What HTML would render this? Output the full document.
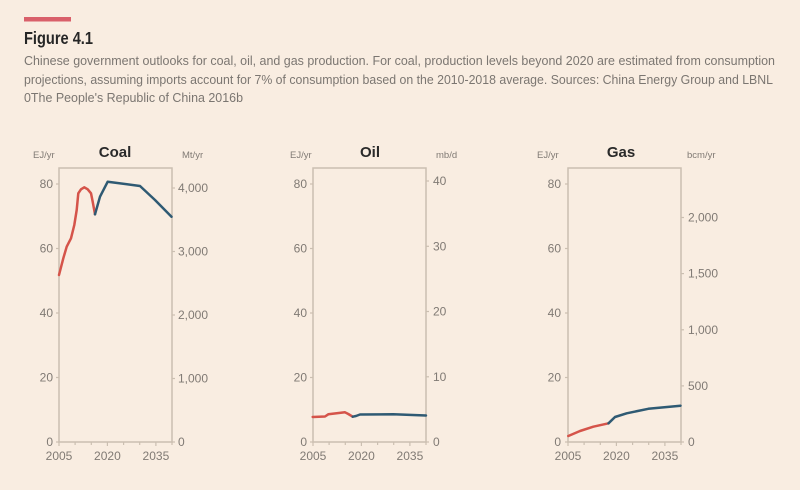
<!DOCTYPE html>
<html><head><meta charset="utf-8"><style>
html,body{margin:0;padding:0;background:#f9ede1;}
svg{display:block;}
text{font-family:"Liberation Sans",sans-serif;}
.cap{font-size:13px;fill:#7b7671;}
.tk{font-size:12px;fill:#807a74;}
.un{font-size:9.5px;fill:#807a74;}
.ti{font-size:15px;font-weight:bold;fill:#2a2a2a;}
.fr{fill:none;stroke:#cbbfb1;stroke-width:1.5;}
.tm{stroke:#cbbfb1;stroke-width:1.2;}
.r{fill:none;stroke:#d5544a;stroke-width:2.5;stroke-linejoin:round;stroke-linecap:round;}
.b{fill:none;stroke:#2f5a73;stroke-width:2.5;stroke-linejoin:round;stroke-linecap:round;}
</style></head><body>
<svg width="800" height="490" viewBox="0 0 800 490" xmlns="http://www.w3.org/2000/svg">
<rect x="0" y="0" width="800" height="490" fill="#f9ede1"/>
<rect x="24" y="17" width="47" height="4.5" fill="#d9606a"/>
<text x="24" y="44" font-size="17.5" font-weight="bold" fill="#262626" textLength="69" lengthAdjust="spacingAndGlyphs">Figure 4.1</text>
<text class="cap" x="24" y="65" textLength="751" lengthAdjust="spacingAndGlyphs">Chinese government outlooks for coal, oil, and gas production. For coal, production levels beyond 2020 are estimated from consumption</text>
<text class="cap" x="24" y="84" textLength="749" lengthAdjust="spacingAndGlyphs">projections, assuming imports account for 7% of consumption based on the 2010-2018 average. Sources: China Energy Group and LBNL</text>
<text class="cap" x="24" y="102" textLength="219" lengthAdjust="spacingAndGlyphs">0The People's Republic of China 2016b</text>

<!-- COAL -->
<g>
<text class="ti" x="115" y="157" text-anchor="middle">Coal</text>
<text class="un" x="33" y="158">EJ/yr</text>
<text class="un" x="182" y="158">Mt/yr</text>
<rect class="fr" x="59" y="168" width="113" height="274"/>
<g class="tm">
<line x1="56" y1="442" x2="59" y2="442"/><line x1="56" y1="377.5" x2="59" y2="377.5"/><line x1="56" y1="313" x2="59" y2="313"/><line x1="56" y1="248.5" x2="59" y2="248.5"/><line x1="56" y1="184" x2="59" y2="184"/>
<line x1="172" y1="442" x2="175" y2="442"/><line x1="172" y1="378.5" x2="175" y2="378.5"/><line x1="172" y1="315" x2="175" y2="315"/><line x1="172" y1="251.5" x2="175" y2="251.5"/><line x1="172" y1="188" x2="175" y2="188"/>
<line x1="59" y1="442" x2="59" y2="446"/><line x1="75.1" y1="442" x2="75.1" y2="445"/><line x1="91.3" y1="442" x2="91.3" y2="445"/><line x1="107.4" y1="442" x2="107.4" y2="446"/><line x1="123.6" y1="442" x2="123.6" y2="445"/><line x1="139.7" y1="442" x2="139.7" y2="445"/><line x1="155.9" y1="442" x2="155.9" y2="446"/><line x1="172" y1="442" x2="172" y2="445"/>
</g>
<g class="tk" text-anchor="end">
<text x="53" y="446">0</text><text x="53" y="381.5">20</text><text x="53" y="317">40</text><text x="53" y="252.5">60</text><text x="53" y="188">80</text>
</g>
<g class="tk">
<text x="178" y="446">0</text><text x="178" y="382.5">1,000</text><text x="178" y="319">2,000</text><text x="178" y="255.5">3,000</text><text x="178" y="192">4,000</text>
</g>
<g class="tk" text-anchor="middle">
<text x="59" y="460">2005</text><text x="107.4" y="460">2020</text><text x="155.9" y="460">2035</text>
</g>
<polyline class="r" points="59,275 63.3,258.3 66.7,246.7 71,238.3 74.3,225 76.7,210 78.3,193.3 81,189.3 84.3,187.3 87.7,189.3 91,193.3 92.7,201.7 95,214.3"/>
<polyline class="b" points="95,214.3 100,196.7 107.7,181.7 140,186 155,200 171.5,216.7"/>
</g>

<!-- OIL -->
<g>
<text class="ti" x="370" y="157" text-anchor="middle">Oil</text>
<text class="un" x="290" y="158">EJ/yr</text>
<text class="un" x="436" y="158">mb/d</text>
<rect class="fr" x="313" y="168" width="113" height="274"/>
<g class="tm">
<line x1="310" y1="442" x2="313" y2="442"/><line x1="310" y1="377.5" x2="313" y2="377.5"/><line x1="310" y1="313" x2="313" y2="313"/><line x1="310" y1="248.5" x2="313" y2="248.5"/><line x1="310" y1="184" x2="313" y2="184"/>
<line x1="426" y1="442" x2="429" y2="442"/><line x1="426" y1="376.8" x2="429" y2="376.8"/><line x1="426" y1="311.5" x2="429" y2="311.5"/><line x1="426" y1="246.3" x2="429" y2="246.3"/><line x1="426" y1="181" x2="429" y2="181"/>
<line x1="313" y1="442" x2="313" y2="446"/><line x1="329.1" y1="442" x2="329.1" y2="445"/><line x1="345.3" y1="442" x2="345.3" y2="445"/><line x1="361.4" y1="442" x2="361.4" y2="446"/><line x1="377.6" y1="442" x2="377.6" y2="445"/><line x1="393.7" y1="442" x2="393.7" y2="445"/><line x1="409.9" y1="442" x2="409.9" y2="446"/><line x1="426" y1="442" x2="426" y2="445"/>
</g>
<g class="tk" text-anchor="end">
<text x="307" y="446">0</text><text x="307" y="381.5">20</text><text x="307" y="317">40</text><text x="307" y="252.5">60</text><text x="307" y="188">80</text>
</g>
<g class="tk">
<text x="433" y="446">0</text><text x="433" y="380.8">10</text><text x="433" y="315.5">20</text><text x="433" y="250.3">30</text><text x="433" y="185">40</text>
</g>
<g class="tk" text-anchor="middle">
<text x="313" y="460">2005</text><text x="361.4" y="460">2020</text><text x="409.9" y="460">2035</text>
</g>
<polyline class="r" points="312.7,417 325,416.5 328.3,414.3 336.7,413.3 345,412.3 348.3,414 352.7,416.7"/>
<polyline class="b" points="352.7,416.7 356,416 360,414.5 393.3,414.3 426,415.5"/>
</g>

<!-- GAS -->
<g>
<text class="ti" x="621" y="157" text-anchor="middle">Gas</text>
<text class="un" x="537" y="158">EJ/yr</text>
<text class="un" x="687" y="158">bcm/yr</text>
<rect class="fr" x="568" y="168" width="113" height="274"/>
<g class="tm">
<line x1="565" y1="442" x2="568" y2="442"/><line x1="565" y1="377.5" x2="568" y2="377.5"/><line x1="565" y1="313" x2="568" y2="313"/><line x1="565" y1="248.5" x2="568" y2="248.5"/><line x1="565" y1="184" x2="568" y2="184"/>
<line x1="681" y1="442" x2="684" y2="442"/><line x1="681" y1="385.9" x2="684" y2="385.9"/><line x1="681" y1="329.8" x2="684" y2="329.8"/><line x1="681" y1="273.6" x2="684" y2="273.6"/><line x1="681" y1="217.5" x2="684" y2="217.5"/>
<line x1="568" y1="442" x2="568" y2="446"/><line x1="584.1" y1="442" x2="584.1" y2="445"/><line x1="600.3" y1="442" x2="600.3" y2="445"/><line x1="616.4" y1="442" x2="616.4" y2="446"/><line x1="632.6" y1="442" x2="632.6" y2="445"/><line x1="648.7" y1="442" x2="648.7" y2="445"/><line x1="664.9" y1="442" x2="664.9" y2="446"/><line x1="681" y1="442" x2="681" y2="445"/>
</g>
<g class="tk" text-anchor="end">
<text x="561" y="446">0</text><text x="561" y="381.5">20</text><text x="561" y="317">40</text><text x="561" y="252.5">60</text><text x="561" y="188">80</text>
</g>
<g class="tk">
<text x="688" y="446">0</text><text x="688" y="389.9">500</text><text x="688" y="333.8">1,000</text><text x="688" y="277.6">1,500</text><text x="688" y="221.5">2,000</text>
</g>
<g class="tk" text-anchor="middle">
<text x="568" y="460">2005</text><text x="616.4" y="460">2020</text><text x="664.9" y="460">2035</text>
</g>
<polyline class="r" points="568.3,436 580,431 593.3,426.7 608.5,423.3"/>
<polyline class="b" points="608.5,423.3 615,417 626.7,413.3 648.3,408.8 680.5,405.7"/>
</g>
</svg>
</body></html>
